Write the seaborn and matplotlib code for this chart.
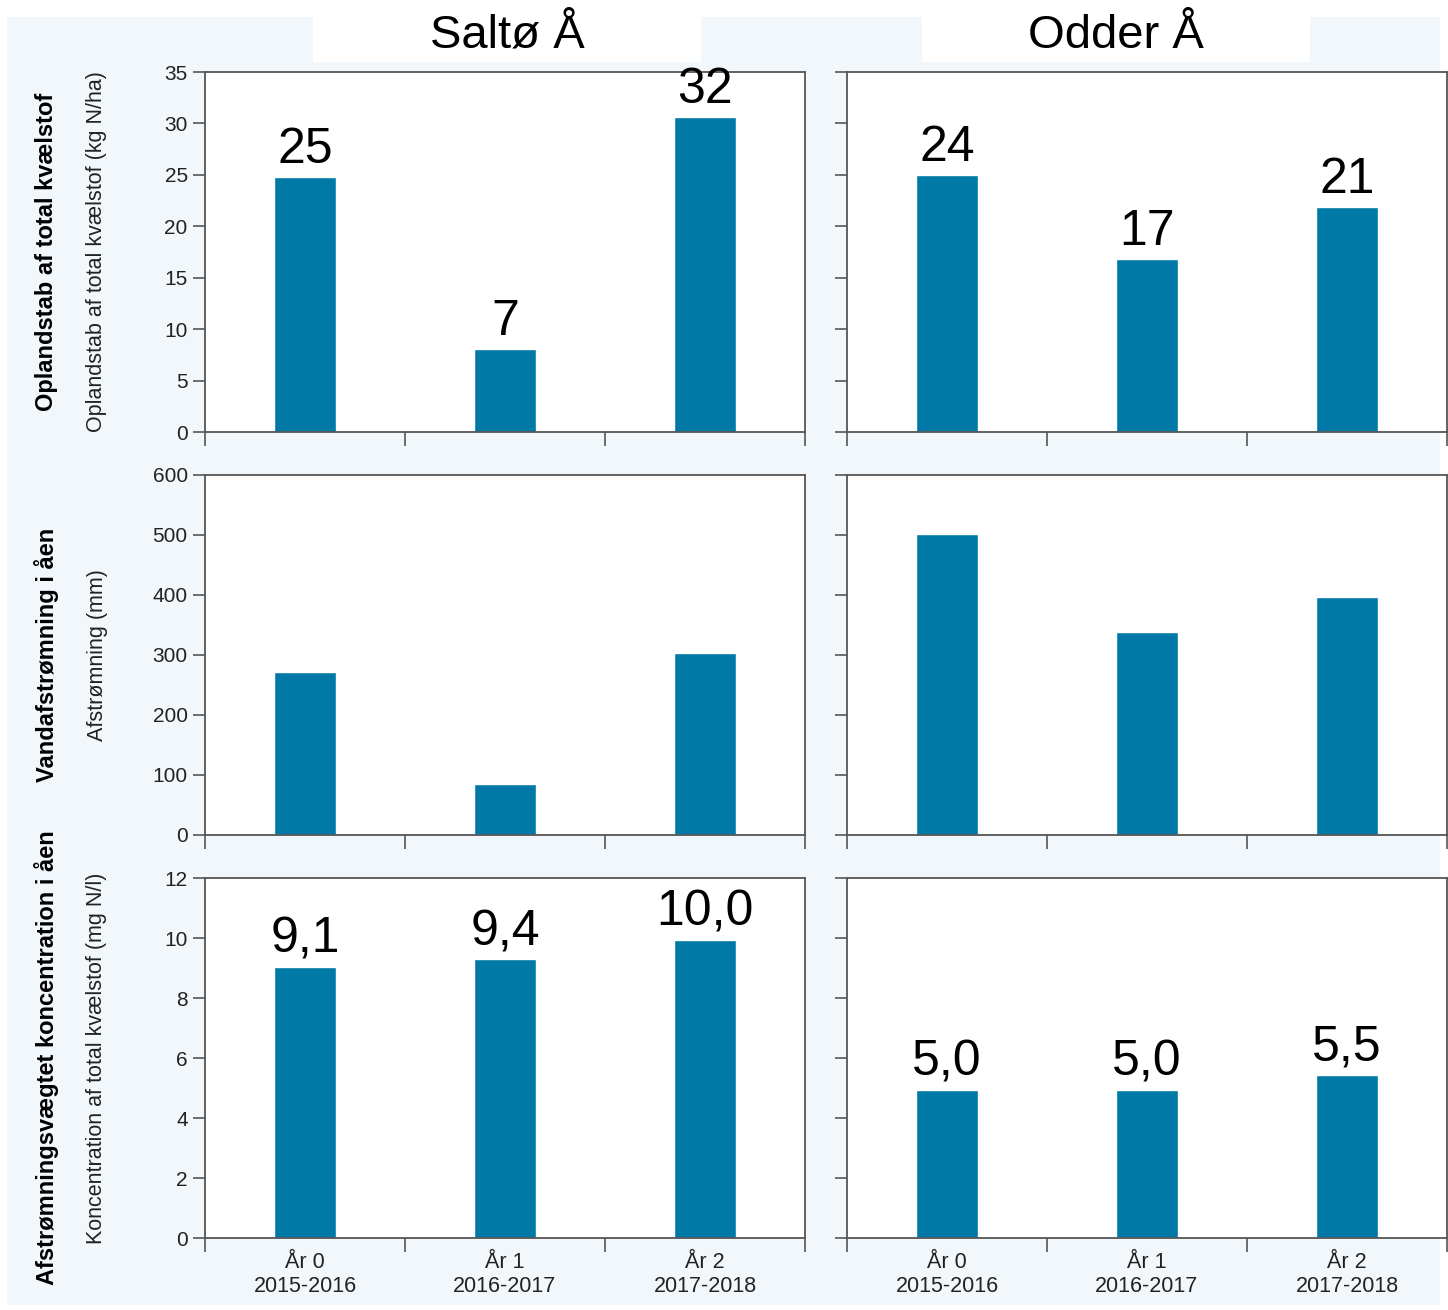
import matplotlib.pyplot as plt
import matplotlib.patches as mpatches
import seaborn as sns
import pandas as pd

# Categories (x axis)
years = ['År 0\n2015-2016', 'År 1\n2016-2017', 'År 2\n2017-2018']
streams = ['Saltø Å', 'Odder Å']

# Oplandstab af total kvælstof (kg N/ha)
n_loss_salto = [24.8, 8.1, 30.6]
n_loss_odder = [25.0, 16.8, 21.9]
n_loss_labels_salto = ['25', '7', '32']
n_loss_labels_odder = ['24', '17', '21']

# Afstrømning (mm)
runoff_salto = [272, 85, 304]
runoff_odder = [501, 339, 397]

# Koncentration af total kvælstof (mg N/l)
conc_salto = [9.05, 9.3, 9.95]
conc_odder = [4.95, 4.95, 5.45]
conc_labels_salto = ['9,1', '9,4', '10,0']
conc_labels_odder = ['5,0', '5,0', '5,5']

rows = [
    dict(title='Oplandstab af total kvælstof', unit='Oplandstab af total kvælstof (kg N/ha)',
         ylim=35, step=5, values=[n_loss_salto, n_loss_odder],
         labels=[n_loss_labels_salto, n_loss_labels_odder]),
    dict(title='Vandafstrømning i åen', unit='Afstrømning (mm)',
         ylim=600, step=100, values=[runoff_salto, runoff_odder], labels=None),
    dict(title='Afstrømningsvægtet koncentration i åen',
         unit='Koncentration af total kvælstof (mg N/l)',
         ylim=12, step=2, values=[conc_salto, conc_odder],
         labels=[conc_labels_salto, conc_labels_odder]),
]

sns.set_theme(style='ticks')
plt.rcParams['font.family'] = ['Liberation Sans', 'DejaVu Sans']

bar_color = '#0079A6'
spine_color = '#555555'
W, H = 1448, 1310
fig = plt.figure(figsize=(W / 100, H / 100), dpi=100, facecolor='white')

# light blue backdrop
fig.patches.append(mpatches.Rectangle((7 / W, 1 - 1305 / H), 1433 / W, 1288 / H,
                                      transform=fig.transFigure, facecolor='#F2F7FB',
                                      edgecolor='none', zorder=-10))

col_x = [205, 847]
row_top = [72, 475, 878]
ax_w, ax_h = 600, 360

for r, row in enumerate(rows):
    for c in range(2):
        ax = fig.add_axes([col_x[c] / W, 1 - (row_top[r] + ax_h) / H, ax_w / W, ax_h / H])
        ax.set_facecolor('white')
        df = pd.DataFrame({'year': years, 'value': row['values'][c]})
        sns.barplot(data=df, x='year', y='value', order=years, color=bar_color,
                    width=0.31, saturation=1, ax=ax)
        ax.set_xlim(-0.5, 2.5)
        ax.set_ylim(0, row['ylim'])
        ax.set_yticks(range(0, row['ylim'] + 1, row['step']))
        ax.set_xticks([-0.5, 0.5, 1.5, 2.5])
        ax.set_xticklabels([])
        ax.set_xticks([0, 1, 2], minor=True)
        ax.set_xlabel('')
        ax.set_ylabel('')
        for s in ax.spines.values():
            s.set_visible(True)
            s.set_color(spine_color)
            s.set_linewidth(1.3)
        ax.tick_params(axis='y', which='major', direction='out', length=9,
                       width=1.2, color=spine_color, labelsize=15, labelcolor='#222222')
        ax.tick_params(axis='x', which='major', direction='out', length=10,
                       width=1.2, color=spine_color)
        ax.tick_params(axis='x', which='minor', length=0, labelsize=15.5,
                       labelcolor='#222222', pad=10)
        if r == 2:
            ax.set_xticklabels(years, minor=True, linespacing=1.2)
        if c == 1:
            ax.set_yticklabels([])

        if row['labels'] is not None:
            for i, (v, lab) in enumerate(zip(row['values'][c], row['labels'][c])):
                bbox = None
                if lab == '10,0':
                    bbox = dict(facecolor='white', edgecolor='none', pad=2)
                ax.annotate(lab, (i, v), xytext=(0, 10), textcoords='offset points',
                            ha='center', va='baseline', fontsize=36, color='black',
                            bbox=bbox, annotation_clip=False, zorder=5)

    cy = 1 - (row_top[r] + ax_h / 2) / H
    fig.text(47 / W, cy, row['title'], rotation=90, ha='center', va='center',
             fontsize=17, fontweight='bold', color='black')
    fig.text(97 / W, cy, row['unit'], rotation=90, ha='center', va='center',
             fontsize=15.5, color='#222222')

# column titles with white boxes
title_cx = [507, 1116]
for c, name in enumerate(streams):
    fig.patches.append(mpatches.Rectangle(((title_cx[c] - 194) / W, 1 - 62 / H), 388 / W, 45 / H,
                                          transform=fig.transFigure, facecolor='white',
                                          edgecolor='none', zorder=-5))
    fig.text(title_cx[c] / W, 1 - 36 / H, name, ha='center', va='center',
             fontsize=34, color='black')

fig.savefig('out.png', dpi=100)
